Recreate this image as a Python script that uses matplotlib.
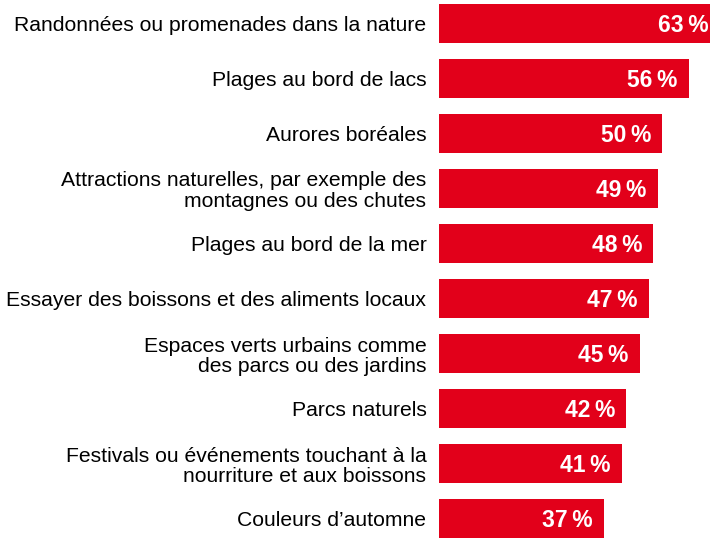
import matplotlib
matplotlib.use("Agg")
import matplotlib.pyplot as plt

categories = [
    "Randonnées ou promenades dans la nature",
    "Plages au bord de lacs",
    "Aurores boréales",
    "Attractions naturelles, par exemple des\nmontagnes ou des chutes",
    "Plages au bord de la mer",
    "Essayer des boissons et des aliments locaux",
    "Espaces verts urbains comme\ndes parcs ou des jardins",
    "Parcs naturels",
    "Festivals ou événements touchant à la\nnourriture et aux boissons",
    "Couleurs d\u2019automne",
]
values = [63, 56, 50, 49, 48, 47, 45, 42, 41, 37]

_RED = "#E2001A"
_TEXT = "#000000"

plt.rcParams["font.family"] = ["Liberation Sans", "DejaVu Sans"]

W, H = 710, 540
fig = plt.figure(figsize=(W / 100, H / 100), dpi=100)
x0 = 439
ax = fig.add_axes([x0 / W, 0, 1 - x0 / W, 1])

px_per_pct = 4.46
pitch = 55.0
bar_h = 39.0
ypos = list(range(len(values)))

ax.barh(ypos, values, height=bar_h / pitch, color=_RED, linewidth=0)
ax.set_xlim(0, (W - x0) / px_per_pct)
ax.set_ylim((H - 23.5) / pitch, -23.5 / pitch)

for y, v in zip(ypos, values):
    ax.text(v - 11 / px_per_pct, y + 0.03, f"{v}\u2009%", ha="right", va="center",
            color="white", fontsize=16.5, fontweight="bold", clip_on=False)

ax.set_yticks(ypos)
ax.set_yticklabels(categories, fontsize=15.2, color=_TEXT, ha="right",
                   multialignment="right", linespacing=1.07)
ax.tick_params(axis="y", length=0, pad=9)
ax.set_xticks([])
for sp in ax.spines.values():
    sp.set_visible(False)

fig.savefig("out.png", dpi=100)
